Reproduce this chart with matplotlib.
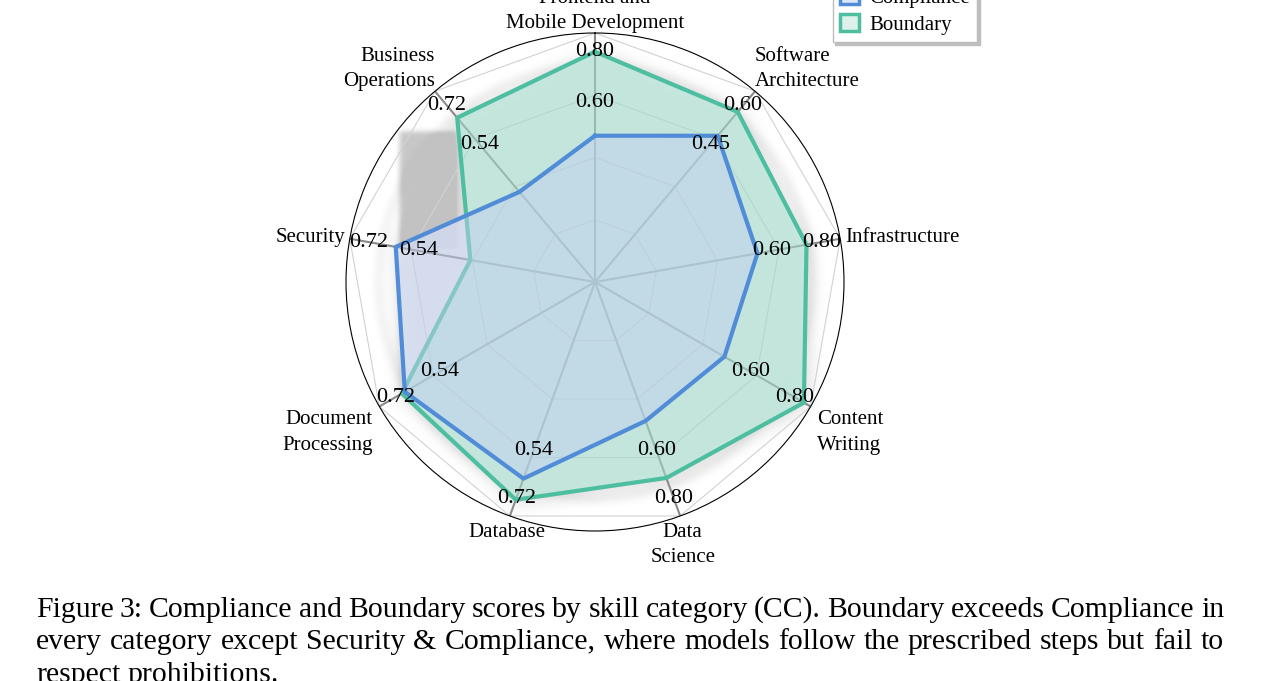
import numpy as np
import matplotlib
matplotlib.use('Agg')
import matplotlib.pyplot as plt
from matplotlib.path import Path
from matplotlib.patches import Patch

# Data
categories = ['Frontend and\nMobile Development', 'Software\nArchitecture', 'Infrastructure',
              'Content\nWriting', 'Data\nScience', 'Database', 'Document\nProcessing',
              'Security', 'Business\nOperations']
compliance = [0.47, 0.46, 0.53, 0.48, 0.475, 0.605, 0.635, 0.585, 0.34]
boundary = [0.74, 0.535, 0.69, 0.775, 0.67, 0.67, 0.645, 0.366, 0.62]
# per-axis scale: outer ring = tick_hi, 0.75 ring = tick_lo
tick_hi = [0.80, 0.60, 0.80, 0.80, 0.80, 0.72, 0.72, 0.72, 0.72]
tick_lo = [0.60, 0.45, 0.60, 0.60, 0.60, 0.54, 0.54, 0.54, 0.54]

caption_lines = [
    "Figure 3: Compliance and Boundary scores by skill category (CC). Boundary exceeds Compliance in",
    "every category except Security & Compliance, where models follow the prescribed steps but fail to",
    "respect prohibitions.",
]

blue = '#508CD8'
green = '#4DBFA0'
blue_fill = (192 / 255, 206 / 255, 238 / 255)
green_fill = (160 / 255, 217 / 255, 200 / 255)

plt.rcParams['font.family'] = ['Liberation Serif', 'DejaVu Serif']

W, H = 1261, 681
n = len(categories)
angles = np.arange(n) * 2 * np.pi / n
r_comp = np.array(compliance) / np.array(tick_hi)
r_bound = np.array(boundary) / np.array(tick_hi)


def close(a):
    return np.concatenate([a, a[:1]])


def blur(img, sigma):
    k = np.arange(-3 * sigma, 3 * sigma + 1)
    k = np.exp(-0.5 * (k / sigma) ** 2)
    k /= k.sum()
    img = np.apply_along_axis(lambda m: np.convolve(m, k, mode='same'), 0, img)
    img = np.apply_along_axis(lambda m: np.convolve(m, k, mode='same'), 1, img)
    return img


fig = plt.figure(figsize=(W / 100, H / 100), dpi=100)
rect = [346 / W, 150 / H, 498 / W, 498 / H]

# --- soft shadow behind the radar polygons (blurred raster) ---
sax = fig.add_axes(rect, zorder=0)
sax.set_xlim(-1, 1)
sax.set_ylim(-1, 1)
sax.axis('off')

N = 440
g = np.linspace(-1.1, 1.1, N)
X, Y = np.meshgrid(g, g)
env = np.maximum(r_comp, r_bound) * 1.01
ex, ey = env * np.sin(angles), env * np.cos(angles)
pts = np.column_stack([X.ravel() - 0.006, Y.ravel() + 0.008])
poly_mask = Path(np.column_stack([ex, ey])).contains_points(pts).reshape(N, N).astype(float)
# edges of the envelope that jump between the two series leave a boxy shadow
box_mask = np.zeros_like(poly_mask)
blue_wins = r_comp > r_bound
for i in range(n):
    j = (i + 1) % n
    if blue_wins[i] != blue_wins[j]:
        x0, x1 = sorted([ex[i], ex[j]])
        y0, y1 = sorted([ey[i], ey[j]])
        box_mask[(X >= x0 + 0.02) & (X <= x1) & (Y >= y0) & (Y <= y1 - 0.06)] = 1
rad = np.hypot(X, Y)
ring = ((rad > 0.855) & (rad < 0.885)).astype(float)

shade = 0.15 * blur(poly_mask, 7) + 0.22 * blur(box_mask, 2) + 0.06 * blur(ring, 3)
rgba = np.zeros((N, N, 4))
rgba[..., 3] = np.clip(shade, 0, 0.24)
sax.imshow(rgba, extent=[-1.1, 1.1, -1.1, 1.1], origin='lower', interpolation='bilinear')

# --- radar ---
ax = fig.add_axes(rect, projection='polar', zorder=1)
ax.set_facecolor('none')
ax.set_theta_offset(np.pi / 2)
ax.set_theta_direction(-1)
ax.set_ylim(0, 1)
ax.set_xticks([])
ax.set_yticks([])
ax.grid(False)
ax.spines['polar'].set_color('black')
ax.spines['polar'].set_linewidth(0.8)

ta = close(angles)
ax.fill(ta, close(r_bound), color='white', alpha=0.85, lw=0, zorder=0.5)
ax.fill(ta, close(r_comp), color='white', alpha=0.5, lw=0, zorder=0.5)

for rr in [0.25, 0.5, 0.75, 1.0]:
    ax.plot(ta, [rr] * (n + 1), color='#d2d2d2', lw=0.8, zorder=1)
for t in angles:
    ax.plot([t, t], [0, 1], color='#8a8a8a', lw=1.5, zorder=1.2)

ax.fill(ta, close(r_bound), color=green_fill, alpha=0.6, lw=0, zorder=2)
ax.plot(ta, close(r_bound), color=green, lw=3, zorder=2.5)
ax.fill(ta, close(r_comp), color=blue_fill, alpha=0.5, lw=0, zorder=3)
ax.plot(ta, close(r_comp), color=blue, lw=3, zorder=3.5)

for t, lo, hi in zip(angles, tick_lo, tick_hi):
    ax.text(t, 0.72, f'{lo:.2f}', ha='center', va='center', fontsize=16, zorder=5)
    ax.text(t, 0.925, f'{hi:.2f}', ha='center', va='center', fontsize=16, zorder=5)

for t, lab in zip(angles, categories):
    x, y = np.sin(t), np.cos(t)
    ha = 'left' if x > 0.5 else ('right' if x < -0.5 else 'center')
    if y > 0.5:
        va, rr = 'bottom', 1.0
    elif y < -0.4:
        va, rr = 'top', 1.03
    else:
        va, rr = 'center', 1.02
    ax.text(t, rr, lab, ha=ha, va=va, fontsize=15, linespacing=1.45, zorder=5)

handles = [Patch(facecolor='#dde8f7', edgecolor=blue, lw=2.5, label='Compliance'),
           Patch(facecolor='#dcf1ea', edgecolor=green, lw=2.5, label='Boundary')]
fig.legend(handles=handles, loc='lower right', bbox_to_anchor=(977 / W, 1 - 42 / H),
           fontsize=15, handlelength=0.9, handleheight=0.9, borderaxespad=0, borderpad=0.35,
           labelspacing=0.3, handletextpad=0.5, fancybox=False, shadow={'color': '0.75', 'alpha': 1},
           edgecolor='#bdbdbd', framealpha=1)

# caption, justified like the paper text
cap_size = 21.4
renderer = fig.canvas.get_renderer()
left_px, right_px = 36, 1224
baselines = [617, 649, 682]
probe = fig.text(0, 0, 'a a', fontsize=cap_size)
probe2 = fig.text(0, 0, 'aa', fontsize=cap_size)
space = probe.get_window_extent(renderer).width - probe2.get_window_extent(renderer).width
probe.remove()
probe2.remove()
for k, line in enumerate(caption_lines):
    words = line.split(' ')
    items = [fig.text(0, 1 - baselines[k] / H, w, fontsize=cap_size, ha='left', va='baseline')
             for w in words]
    widths = [t.get_window_extent(renderer).width for t in items]
    if k < len(caption_lines) - 1:
        gap = (right_px - left_px - sum(widths)) / (len(words) - 1)
    else:
        gap = space
    xpos = left_px
    for t, w in zip(items, widths):
        t.set_x(xpos / W)
        xpos += w + gap

fig.savefig('out.png', dpi=100)
